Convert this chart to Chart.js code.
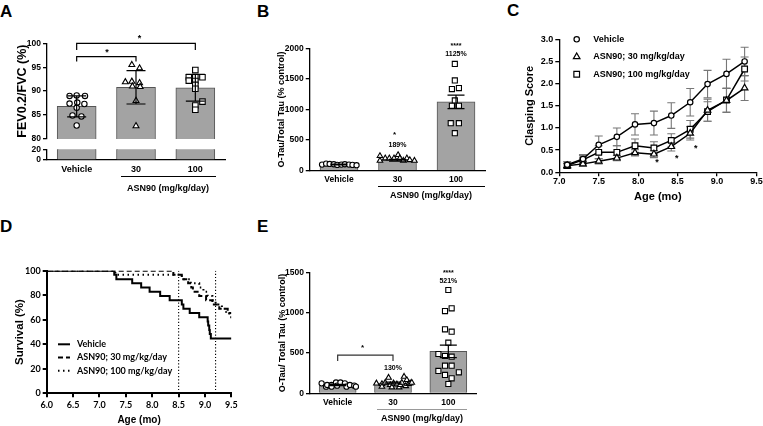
<!DOCTYPE html>
<html>
<head>
<meta charset="utf-8">
<script src="https://cdn.jsdelivr.net/npm/chart.js@4.4.1/dist/chart.umd.min.js"></script>
<style>
  body { margin: 0; width: 763px; height: 426px; position: relative; overflow: hidden; background: #fff;
         font-family: "Liberation Sans", Arial, sans-serif; font-weight: bold; color: #000; }
  canvas { position: absolute; }
  .lt { position: absolute; font-size: 17px; line-height: 17px; }
  .grp { position: absolute; font-size: 9px; line-height: 9px; white-space: nowrap; transform: translateX(-50%); }
  .ul { position: absolute; height: 0; border-top: 1px solid #000; }
</style>
</head>
<body>
<div class="lt" style="left:0px;top:3px">A</div>
<div class="lt" style="left:257px;top:3px">B</div>
<div class="lt" style="left:507px;top:2px">C</div>
<div class="lt" style="left:0px;top:218px">D</div>
<div class="lt" style="left:257px;top:218px">E</div>

<canvas id="cA1"></canvas>
<canvas id="cA2"></canvas>
<canvas id="cB"></canvas>
<canvas id="cC"></canvas>
<canvas id="cD"></canvas>
<canvas id="cE"></canvas>

<div class="ul" style="left:121px;top:176px;width:95px"></div>
<div class="grp" style="left:168px;top:184px">ASN90 (mg/kg/day)</div>
<div class="ul" style="left:378px;top:186px;width:107px"></div>
<div class="grp" style="left:431px;top:191px">ASN90 (mg/kg/day)</div>
<div class="ul" style="left:377px;top:409px;width:90px;border-color:#999"></div>
<div class="grp" style="left:422px;top:414px">ASN90 (mg/kg/day)</div>

<script>
// shared categories
const groups = ['Vehicle', '30', '100'];

// A: FEV0.2/FVC (%), mean +/- SD
const aMean = [86.8, 90.8, 90.7];
const aSD = [2.2, 3.5, 2.8];
const aVeh = [89.0, 89.1, 89.0, 87.4, 87.6, 87.3, 86.5, 84.9, 84.7, 82.8];
const aVehJit = [-0.12, 0, 0.14, -0.12, 0.01, 0.13, 0, -0.07, 0.08, 0];
const a30 = [95.5, 94.8, 91.9, 92.0, 91.7, 91.0, 90.9, 88.0, 82.7];
const a30Jit = [-0.07, 0.06, -0.18, -0.07, 0.06, -0.06, 0.07, 0, 0];
const a100 = [94.4, 92.9, 92.9, 92.9, 92.2, 92.1, 91.3, 90.5, 87.8, 87.0, 86.1];
const a100Jit = [0, -0.11, 0, 0.12, -0.11, 0, 0, 0, 0.12, 0, 0];

// B: O-Tau/Total Tau (% control)
const bMean = [100, 172, 1125];
const bSEM = [6, 14, 110];
const bVeh = [100, 115, 110, 105, 95, 100, 105, 100, 95, 90];
const bVehJit = [-0.29, -0.22, -0.16, -0.09, -0.03, 0.04, 0.1, 0.17, 0.23, 0.3];
const b30 = [241, 164, 203, 203, 203, 257, 203, 164, 203, 175, 164];
const b30Jit = [-0.3, -0.3, -0.21, -0.14, -0.06, 0.01, 0.04, 0.1, 0.16, 0.21, 0.29];
const b100 = [1744, 1475, 1334, 1350, 1148, 1061, 1061, 777, 777, 613];
const b100Jit = [-0.02, -0.02, -0.07, 0.05, -0.02, -0.07, 0.05, -0.09, 0.05, -0.02];

// C: clasping score vs age
const cNames = ['Vehicle', 'ASN90; 30 mg/kg/day', 'ASN90; 100 mg/kg/day'];
const cAge = [7.1, 7.3, 7.5, 7.73, 7.96, 8.2, 8.42, 8.66, 8.88, 9.12, 9.35];
const cVeh = [0.17, 0.3, 0.62, 0.8, 1.08, 1.11, 1.28, 1.58, 1.99, 2.22, 2.5];
const cVehErr = [0.07, 0.1, 0.2, 0.2, 0.24, 0.27, 0.29, 0.31, 0.31, 0.33, 0.32];
const c30 = [0.15, 0.19, 0.25, 0.32, 0.44, 0.41, 0.58, 0.88, 1.4, 1.62, 1.9];
const c30Err = [0.05, 0.05, 0.06, 0.06, 0.07, 0.08, 0.1, 0.15, 0.25, 0.27, 0.28];
const c100 = [0.15, 0.28, 0.45, 0.45, 0.6, 0.55, 0.72, 0.97, 1.37, 1.63, 2.33];
const c100Err = [0.05, 0.1, 0.15, 0.15, 0.15, 0.14, 0.15, 0.2, 0.22, 0.27, 0.27];
const cStarX = [8.24, 8.49, 8.73];
const cStarY = [0.22, 0.32, 0.54];

// D: survival (%)
const dNames = ['Vehicle', 'ASN90; 30 mg/kg/day', 'ASN90; 100 mg/kg/day'];
const dVehT = [6.0, 7.28, 7.32, 7.62, 7.79, 7.95, 8.15, 8.33, 8.56, 8.59, 8.71, 8.89, 9.05, 9.06, 9.08, 9.09, 9.11, 9.5];
const dVehS = [100, 96.6, 93.1, 89.7, 86.2, 82.8, 79.3, 75.9, 72.4, 69.0, 65.5, 62.1, 58.6, 55.2, 51.7, 48.3, 44.8, 44.8];
const d30T = [6.0, 8.40, 8.56, 8.68, 8.74, 8.77, 8.89, 9.02, 9.14, 9.27, 9.43, 9.5];
const d30S = [100, 96.6, 93.1, 89.7, 86.2, 82.8, 79.3, 75.9, 72.4, 69.0, 65.5, 65.5];
const d100T = [6.0, 7.30, 8.56, 8.73, 8.89, 8.97, 9.05, 9.14, 9.20, 9.32, 9.40, 9.46, 9.5];
const d100S = [100, 96.6, 93.1, 89.7, 86.2, 82.8, 79.3, 75.9, 72.4, 69.0, 65.5, 62.1, 62.1];
const dCut = [8.5, 9.2];

// E: O-Tau/ Total Tau (% control)
const eMean = [104, 128, 521];
const eSEM = [8, 10, 78];
const eVeh = [124, 83, 104, 104, 83, 135, 95, 135, 124, 83, 104, 95, 83];
const eVehJit = [-0.29, -0.21, -0.19, -0.11, -0.11, -0.03, -0.01, 0.05, 0.13, 0.16, 0.22, 0.3, 0.33];
const e30 = [124, 116, 83, 133, 195, 104, 75, 124, 112, 75, 104, 133, 207, 91, 166, 116, 124, 133];
const e30Jit = [-0.3, -0.2, -0.2, -0.14, -0.08, -0.05, -0.02, 0.01, 0.07, 0.11, 0.13, 0.16, 0.2, 0.23, 0.25, 0.28, 0.31, 0.34];
const e100 = [1285, 1023, 1057, 796, 767, 630, 489, 464, 456, 344, 344, 278, 261, 228, 186, 116];
const e100Jit = [0, -0.06, 0.06, -0.06, 0.06, 0, -0.18, -0.06, 0.06, -0.06, 0.06, -0.18, 0.19, -0.06, 0.06, 0];

const F = '"Liberation Sans", Arial, sans-serif';
Chart.defaults.font.family = F;
Chart.defaults.font.weight = 'bold';
Chart.defaults.color = '#000';
Chart.defaults.animation = false;
Chart.defaults.plugins.legend.display = false;
Chart.defaults.plugins.tooltip.enabled = false;

function place(id, x, y, w, h) {
  const c = document.getElementById(id);
  c.width = w; c.height = h;
  c.style.left = x + 'px'; c.style.top = y + 'px';
  c.style.width = w + 'px'; c.style.height = h + 'px';
  return c;
}
const fnt = (size, fam) => ({family: fam || F, size: size, weight: 'bold'});
const jit = (c, js, ys) => ys.map((y, i) => ({x: c + js[i], y: y}));
const pts = (xs, ys) => ys.map((y, i) => ({x: xs[i], y: y}));

function vAxis(o) {
  const bw = o.bw || 1.3;
  return {
    type: 'linear', min: o.min, max: o.max,
    afterFit: s => { s.width = o.w; },
    border: {display: true, color: '#000', width: bw},
    grid: {display: true, drawOnChartArea: false, drawTicks: true, tickLength: 4, color: '#000', lineWidth: bw},
    ticks: {stepSize: o.step, padding: o.pad || 2, font: fnt(o.fs, o.fam), color: '#000', autoSkip: false,
            callback: o.fmt || (v => String(v))},
    title: o.title ? {display: true, text: o.title, font: fnt(o.ts), color: '#000', padding: {top: 4, bottom: 4}}
                   : {display: false}
  };
}
function hLin(o) {
  const bw = o.bw || 1.3;
  return {
    type: 'linear', min: o.min, max: o.max,
    afterFit: s => { s.height = o.h; },
    border: {display: true, color: '#000', width: bw},
    grid: {display: true, drawOnChartArea: false, drawTicks: true, tickLength: 4, color: '#000', lineWidth: bw},
    ticks: {stepSize: o.step, padding: o.pad, font: fnt(o.fs, o.fam), color: '#000',
            maxRotation: 0, autoSkip: false, callback: v => v.toFixed(1)},
    title: {display: true, text: o.title, font: fnt(o.ts), color: '#000', padding: {top: 0, bottom: o.tpb}}
  };
}
// group axis: linear so the jittered dots and the bars share one scale
function grpAxis(o) {
  const ax = {
    type: 'linear', min: -0.5, max: 2.5, offset: false, display: o.display !== false,
    afterBuildTicks: s => { s.ticks = groups.map((g, i) => ({value: i})); },
    border: {display: true, color: '#000', width: 1.3},
    grid: {display: false, drawTicks: false},
    ticks: {padding: o.pad || 0, font: fnt(o.fs || 9), color: '#000', autoSkip: false, maxRotation: 0,
            callback: v => groups[Math.round(v)]}
  };
  if (o.h) ax.afterFit = s => { s.height = o.h; };
  return ax;
}

function dots(data, style, r) {
  return {type: 'scatter', data: data, pointStyle: style, pointRadius: r,
          pointBorderWidth: 1.1, pointBackgroundColor: '#fff', pointBorderColor: '#000', order: 1};
}
function barSet(vals, thick) {
  return {type: 'bar', data: vals.map((y, i) => ({x: i, y: y})), backgroundColor: '#a3a3a3',
          borderColor: '#555', borderWidth: 1, borderSkipped: 'start', barThickness: thick, order: 5, clip: 0};
}

function errBars(chart, cfg) {
  const ctx = chart.ctx, sx = chart.scales.x, sy = chart.scales.y;
  (cfg.err || []).forEach(s => {
    ctx.save();
    ctx.strokeStyle = s.color || '#000';
    ctx.lineWidth = s.lw || 1.2;
    s.y.forEach((v, i) => {
      const px = sx.getPixelForValue(s.x[i]);
      const hi = sy.getPixelForValue(v + s.e[i]), lo = sy.getPixelForValue(v - s.e[i]);
      ctx.beginPath();
      ctx.moveTo(px, hi); ctx.lineTo(px, lo);
      ctx.moveTo(px - s.cap, hi); ctx.lineTo(px + s.cap, hi);
      ctx.moveTo(px - s.cap, lo); ctx.lineTo(px + s.cap, lo);
      ctx.stroke();
    });
    ctx.restore();
  });
}
// error bars, brackets, labels and legends, all placed through the chart scales
function extras(cfg) {
  return {
    id: 'extras',
    beforeDatasetsDraw(chart) { if (cfg.errUnder) errBars(chart, cfg); },
    afterDatasetsDraw(chart) {
      if (!cfg.errUnder) errBars(chart, cfg);
      const ctx = chart.ctx, sx = chart.scales.x, sy = chart.scales.y;
      ctx.save();
      ctx.strokeStyle = '#000'; ctx.fillStyle = '#000'; ctx.lineWidth = 1.2;
      (cfg.brackets || []).forEach(b => {
        const x1 = sx.getPixelForValue(b.x1), x2 = sx.getPixelForValue(b.x2);
        const y = sy.getPixelForValue(b.y), yd = sy.getPixelForValue(b.drop);
        ctx.strokeStyle = b.color || '#000';
        ctx.beginPath();
        ctx.moveTo(x1, yd); ctx.lineTo(x1, y); ctx.lineTo(x2, y); ctx.lineTo(x2, yd);
        ctx.stroke();
      });
      ctx.textAlign = 'center'; ctx.textBaseline = 'middle';
      (cfg.texts || []).forEach(t => {
        ctx.font = 'bold ' + t.size + 'px ' + F;
        ctx.fillText(t.text, sx.getPixelForValue(t.x), sy.getPixelForValue(t.y));
      });
      if (cfg.legend) cfg.legend(chart, ctx);
      ctx.restore();
    }
  };
}

// ---------- A (broken axis: upper 80-100, lower 0-20) ----------
new Chart(place('cA1', 0, 28, 235, 118), {
  type: 'bar',
  data: {datasets: [
    dots(jit(0, aVehJit, aVeh), 'circle', 2.7),
    dots(jit(1, a30Jit, a30), 'triangle', 3.4),
    dots(jit(2, a100Jit, a100), 'rect', 3.9),
    barSet(aMean, 39)
  ]},
  options: {
    responsive: false,
    layout: {padding: {left: 10.8, top: 15.3, right: 10, bottom: 5.3}},
    scales: {
      x: grpAxis({display: false}),
      y: vAxis({min: 80, max: 100, step: 5, w: 36.2, fs: 8.5, title: 'FEV0.2/FVC (%)', ts: 12.5})
    }
  },
  plugins: [extras({
    err: [{x: [0, 1, 2], y: aMean, e: aSD, cap: 9.5}],
    brackets: [{x1: 0, x2: 2, y: 100, drop: 98.6}, {x1: 0, x2: 1, y: 97.2, drop: 96.2}],
    texts: [{x: 1.06, y: 100.9, text: '*', size: 9}, {x: 0.51, y: 98.0, text: '*', size: 9}]
  })]
});
new Chart(place('cA2', 0, 140, 235, 60), {
  type: 'bar',
  data: {datasets: [barSet(aMean, 39)]},
  options: {
    responsive: false,
    layout: {padding: {left: 10.8, top: 9.3, right: 10, bottom: 0}},
    scales: {
      x: grpAxis({h: 40, fs: 9, pad: 4.6}),
      y: vAxis({min: 0, max: 20, step: 20, w: 36.2, fs: 8.5})
    }
  }
});

// ---------- B ----------
new Chart(place('cB', 250, 28, 250, 175), {
  type: 'bar',
  data: {datasets: [
    dots(jit(0, bVehJit, bVeh), 'circle', 2.6),
    dots(jit(1, b30Jit, b30), 'triangle', 3.2),
    dots(jit(2, b100Jit, b100), 'rect', 3.6),
    barSet(bMean, 38)
  ]},
  options: {
    responsive: false,
    layout: {padding: {left: 22.3, top: 20.3, right: 14.75, bottom: 0}},
    scales: {
      x: grpAxis({h: 32.3, fs: 8.5, pad: 3.5}),
      y: vAxis({min: 0, max: 2000, step: 500, w: 37.45, fs: 8.5, title: 'O-Tau/Total Tau (% control)', ts: 9})
    }
  },
  plugins: [extras({
    err: [{x: [0, 1, 2], y: bMean, e: bSEM, cap: 8.5}],
    texts: [{x: 2, y: 2040, text: '****', size: 7}, {x: 2, y: 1908, text: '1125%', size: 7},
            {x: 0.95, y: 585, text: '*', size: 8}, {x: 1, y: 416, text: '189%', size: 7}]
  })]
});

// ---------- C ----------
new Chart(place('cC', 500, 20, 263, 190), {
  type: 'line',
  data: {datasets: [
    {label: cNames[0], data: pts(cAge, cVeh), pointStyle: 'circle', pointRadius: 2.7},
    {label: cNames[1], data: pts(cAge, c30), pointStyle: 'triangle', pointRadius: 3.8},
    {label: cNames[2], data: pts(cAge, c100), pointStyle: 'rect', pointRadius: 4}
  ].map(d => Object.assign(d, {borderColor: '#000', borderWidth: 1.5, pointBorderWidth: 1.2,
                                pointBackgroundColor: '#fff', pointBorderColor: '#000', tension: 0}))},
  options: {
    responsive: false,
    layout: {padding: {left: 19.4, top: 19.3, right: 6.3, bottom: 2.4}},
    scales: {
      x: hLin({min: 7, max: 9.5, step: 0.5, h: 35.3, fs: 9, pad: 0.3, title: 'Age (mo)', ts: 11, tpb: 4}),
      y: vAxis({min: 0, max: 3, step: 0.5, w: 39.9, fs: 9, fmt: v => v.toFixed(1), title: 'Clasping Score', ts: 11})
    }
  },
  plugins: [extras({
    errUnder: true,
    err: [{x: cAge, y: cVeh, e: cVehErr, cap: 4, color: '#777', lw: 1.1},
          {x: cAge, y: c30, e: c30Err, cap: 4, color: '#777', lw: 1.1},
          {x: cAge, y: c100, e: c100Err, cap: 4, color: '#777', lw: 1.1}],
    texts: cStarX.map((x, i) => ({x: x, y: cStarY[i], text: '*', size: 9})),
    legend: (chart, ctx) => {
      const a = chart.chartArea;
      chart.data.datasets.forEach((d, i) => {
        const y = a.top + i * 17.5;
        ctx.fillStyle = '#fff'; ctx.strokeStyle = '#000'; ctx.lineWidth = 1.2;
        if (Chart.helpers && Chart.helpers.drawPoint) {
          Chart.helpers.drawPoint(ctx, {pointStyle: d.pointStyle, radius: d.pointRadius, borderWidth: 1.2, rotation: 0}, a.left + 17.4, y);
        }
        ctx.fillStyle = '#000'; ctx.font = 'bold 9px ' + F; ctx.textAlign = 'left'; ctx.textBaseline = 'middle';
        ctx.fillText(d.label, a.left + 34, y);
      });
    }
  })]
});

// ---------- D ----------
const dStyles = [[], [5, 3], [1.5, 3.5]];
new Chart(place('cD', 0, 250, 240, 176), {
  type: 'line',
  data: {datasets: [
    {label: dNames[0], data: pts(dVehT, dVehS)},
    {label: dNames[1], data: pts(d30T, d30S)},
    {label: dNames[2], data: pts(d100T, d100S)}
  ].map((d, i) => Object.assign(d, {borderColor: '#000', borderWidth: 2, borderDash: dStyles[i],
                                     stepped: true, pointRadius: 0}))
   .concat(dCut.map(x => ({data: [{x: x, y: 0}, {x: x, y: 100}], borderColor: '#000', borderWidth: 1.1,
                           borderDash: [1.2, 2], pointRadius: 0})))},
  options: {
    responsive: false,
    layout: {padding: {left: 9.1, top: 20.7, right: 7.7, bottom: 0}},
    scales: {
      x: hLin({min: 6, max: 9.5, step: 0.5, h: 32.7, fs: 9, fam: 'Lato', pad: 2.3, title: 'Age (mo)', ts: 10, tpb: 0, bw: 2}),
      y: vAxis({min: 0, max: 100, step: 20, w: 37.6, fs: 9, fam: 'Lato', title: 'Survival (%)', ts: 11.5, bw: 2})
    }
  },
  plugins: [extras({
    legend: (chart, ctx) => {
      const a = chart.chartArea;
      chart.data.datasets.slice(0, 3).forEach((d, i) => {
        const y = a.top + 73.6 + i * 13.2;
        ctx.strokeStyle = '#000'; ctx.lineWidth = 2; ctx.setLineDash(d.borderDash);
        ctx.beginPath(); ctx.moveTo(a.left + 11.3, y); ctx.lineTo(a.left + 23.3, y); ctx.stroke();
        ctx.setLineDash([]);
        ctx.fillStyle = '#000'; ctx.font = 'bold 9px Lato'; ctx.textAlign = 'left'; ctx.textBaseline = 'middle';
        ctx.fillText(d.label, a.left + 30.3, y);
      });
    }
  })]
});

// ---------- E ----------
new Chart(place('cE', 250, 255, 250, 171), {
  type: 'bar',
  data: {datasets: [
    dots(jit(0, eVehJit, eVeh), 'circle', 2.6),
    dots(jit(1, e30Jit, e30), 'triangle', 3.2),
    dots(jit(2, e100Jit, e100), 'rect', 3.6),
    barSet(eMean, 37)
  ]},
  options: {
    responsive: false,
    layout: {padding: {left: 23.6, top: 17.7, right: 24, bottom: 0}},
    scales: {
      x: grpAxis({h: 32.7, fs: 8.5, pad: 3.9}),
      y: vAxis({min: 0, max: 1500, step: 500, w: 36.4, fs: 8.5, title: 'O-Tau/ Total Tau (% control)', ts: 9})
    }
  },
  plugins: [extras({
    err: [{x: [0, 1, 2], y: eMean, e: eSEM, cap: 8.5}],
    brackets: [{x1: 0, x2: 1, y: 476, drop: 401, color: '#333'}],
    texts: [{x: 2, y: 1490, text: '****', size: 7}, {x: 2, y: 1395, text: '521%', size: 7},
            {x: 1, y: 310, text: '130%', size: 7}, {x: 0.45, y: 560, text: '*', size: 8}]
  })]
});
</script>
</body>
</html>
